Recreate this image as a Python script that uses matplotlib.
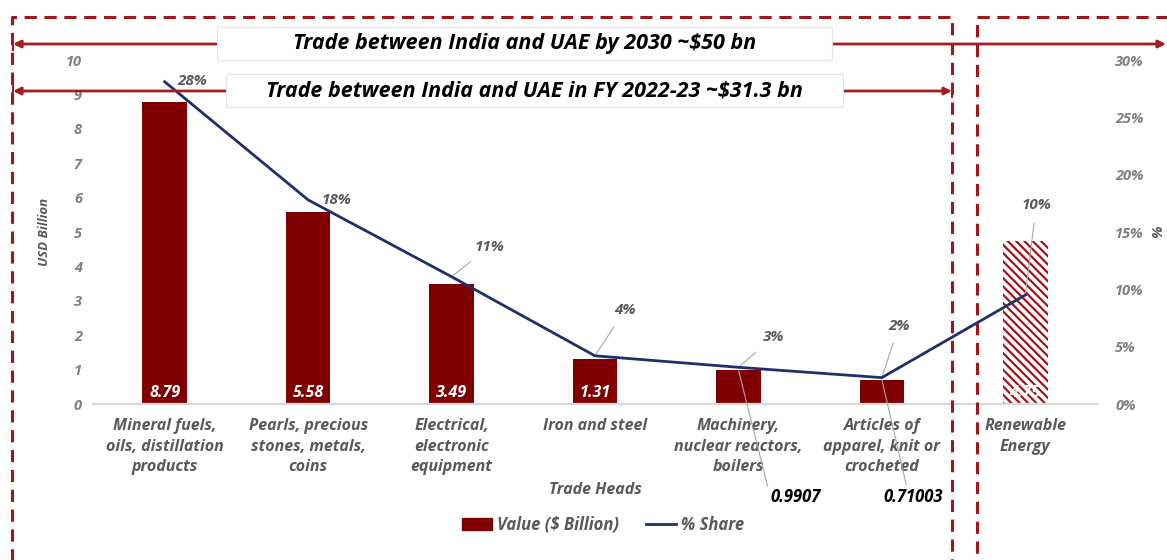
# India-UAE trade heads: value bars with % share line on a second axis

import matplotlib
matplotlib.use("Agg")
import matplotlib.pyplot as plt
from matplotlib.lines import Line2D
from matplotlib.patches import Patch, Rectangle, FancyArrowPatch
from matplotlib.ticker import PercentFormatter

plt.rcParams['font.family'] = ['Open Sans', 'DejaVu Sans']
plt.rcParams['hatch.linewidth'] = 1.6

categories = ["Mineral fuels,\noils, distillation\nproducts",
              "Pearls, precious\nstones, metals,\ncoins",
              "Electrical,\nelectronic\nequipment",
              "Iron and steel",
              "Machinery,\nnuclear reactors,\nboilers",
              "Articles of\napparel, knit or\ncrocheted",
              "Renewable\nEnergy"]
values = [8.79, 5.58, 3.49, 1.31, 0.9907, 0.71003, 4.75]
value_labels = ["8.79", "5.58", "3.49", "1.31", "0.9907", "0.71003", "4.75"]
shares = [0.281, 0.178, 0.111, 0.042, 0.032, 0.023, 0.095]
share_labels = ["28%", "18%", "11%", "4%", "3%", "2%", "10%"]

# label offsets in pixels (dx, dy up) from the data point
share_offsets = [(28, 1), (28, 0), (38, 30), (30, 46), (35, 30), (17, 52), (11, 90)]
share_leader = [False, False, True, True, True, True, True]

maroon = '#7F0000'
navy = '#1F2F6B'
grey = '#595959'
boxred = '#A0161A'
W, H = 1167, 560

fig = plt.figure(figsize=(W / 100, H / 100), dpi=100)
ax = fig.add_axes([93 / W, 1 - 404 / H, (1097 - 93) / W, 344 / H])
ax2 = ax.twinx()

x = list(range(len(categories)))
ax.bar(x[:-1], values[:-1], width=0.31, color=maroon, zorder=2)
ax.bar(x[-1], values[-1], width=0.31, color='white', edgecolor=boxred,
       hatch='\\\\\\\\', linewidth=0, zorder=2)

ax.set_xlim(-0.5, len(categories) - 0.5)
ax.set_ylim(0, 10)
ax.set_yticks(range(0, 11))
ax2.set_ylim(0, 0.30)
ax2.set_yticks([0, 0.05, 0.10, 0.15, 0.20, 0.25, 0.30])
ax2.yaxis.set_major_formatter(PercentFormatter(1.0, decimals=0))

tfont = dict(style='italic', weight='bold', color=grey)
ax.set_xticks(x)
ax.set_xticklabels(categories, fontsize=11.5, linespacing=1.4, **tfont)
for a in (ax, ax2):
    for s in a.spines.values():
        s.set_visible(False)
    a.tick_params(length=0)
ax.spines['bottom'].set_visible(True)
ax.spines['bottom'].set_color('#D9D9D9')
ax.spines['bottom'].set_linewidth(1.6)
ax.tick_params(axis='x', pad=10)
ax.tick_params(axis='y', pad=8)
ax2.tick_params(axis='y', pad=13)
for lab in ax.get_yticklabels() + ax2.get_yticklabels():
    lab.set_fontsize(10.5)
    lab.set_style('italic')
    lab.set_weight('bold')
    lab.set_color('#7F7F7F')

ax.set_ylabel("USD Billion", fontsize=9.5, labelpad=11, **tfont)
ax.set_xlabel("Trade Heads", fontsize=11.5, labelpad=5, **tfont)
fig.text(1158 / W, 1 - 232 / H, "%", rotation=90, ha='center', va='center',
         fontsize=10.5, **tfont)

# value labels
for i, (v, lab) in enumerate(zip(values, value_labels)):
    if i in (4, 5):
        off = (57, -127) if i == 4 else (31, -117)
        ax.annotate(lab, xy=(i, v), xytext=(off[0] * 0.72, off[1] * 0.72),
                    textcoords='offset points', ha='center',
                    va='center', fontsize=12, style='italic', weight='bold',
                    color='black',
                    arrowprops=dict(arrowstyle='-', color='#A6A6A6', lw=0.8,
                                    shrinkA=0, shrinkB=0,
                                    relpos=(0, 0.5) if i == 4 else (0.4, 1)))
    else:
        ax.text(i, 0.33, lab, ha='center', va='center', fontsize=11.5,
                style='italic', weight='bold', color='white', zorder=3)

ax2.plot(x, shares, color=navy, lw=2, zorder=4)
for i, (s, lab) in enumerate(zip(shares, share_labels)):
    dx, dy = share_offsets[i]
    props = None
    if share_leader[i]:
        props = dict(arrowstyle='-', color='#A6A6A6', lw=0.8, shrinkA=6, shrinkB=0)
    ax2.annotate(lab, xy=(i, s), xytext=(dx * 0.72, dy * 0.72),
                 textcoords='offset points', ha='center', va='center',
                 fontsize=11, arrowprops=props, **tfont)

legend_handles = [Patch(color=maroon, label="Value ($ Billion)"),
                  Line2D([], [], color=navy, lw=2, label="% Share")]
fig.legend(handles=legend_handles, loc='center', bbox_to_anchor=(603 / W, 1 - 525 / H),
           ncol=2, frameon=False, handlelength=1.8, handletextpad=0.3,
           columnspacing=1.6, prop=dict(style='italic', weight='bold', size=12))
for t in fig.legends[0].get_texts():
    t.set_color(grey)


def fx(px):
    return px / W


def fy(py):
    return 1 - py / H


def fline(xs, ys, **kw):
    fig.add_artist(Line2D([fx(v) for v in xs], [fy(v) for v in ys],
                          transform=fig.transFigure, **kw))


# dashed boxes
dash = dict(color=boxred, lw=2.2, linestyle=(0, (4, 2.5)))
fline([12, 12, 952, 952], [575, 17, 17, 575], **dash)
fline([1180, 977, 977], [17, 17, 575], **dash)

# arrows
arrow_red = '#A31F1F'


def farrow(x0, x1, y, bar=False):
    fig.add_artist(FancyArrowPatch((fx(x0), fy(y)), (fx(x1), fy(y)),
                                   transform=fig.transFigure, arrowstyle='-|>',
                                   mutation_scale=11, color=arrow_red, lw=2,
                                   shrinkA=0, shrinkB=0))
    if bar:
        fline([x1, x1], [y - 6, y + 6], color=arrow_red, lw=1.5)


farrow(217, 13, 44, bar=True)
farrow(832, 1166, 44)
farrow(226, 13, 91, bar=True)
farrow(843, 952, 91, bar=True)

# title boxes
boxes = [((217, 27, 832, 60), "Trade between India and UAE by 2030 ~$50 bn"),
         ((226, 74, 843, 107), "Trade between India and UAE in FY 2022-23 ~$31.3 bn")]
for (x0, y0, x1, y1), txt in boxes:
    fig.add_artist(Rectangle((fx(x0), fy(y1)), fx(x1) - fx(x0), fy(y0) - fy(y1),
                             transform=fig.transFigure, facecolor='white',
                             edgecolor='#E3E3E3', lw=0.8))
    fig.text(fx((x0 + x1) / 2), fy((y0 + y1) / 2), txt, ha='center', va='center',
             fontsize=15.5, style='italic', weight='bold', color='black')

fig.savefig("out.png", dpi=100)
